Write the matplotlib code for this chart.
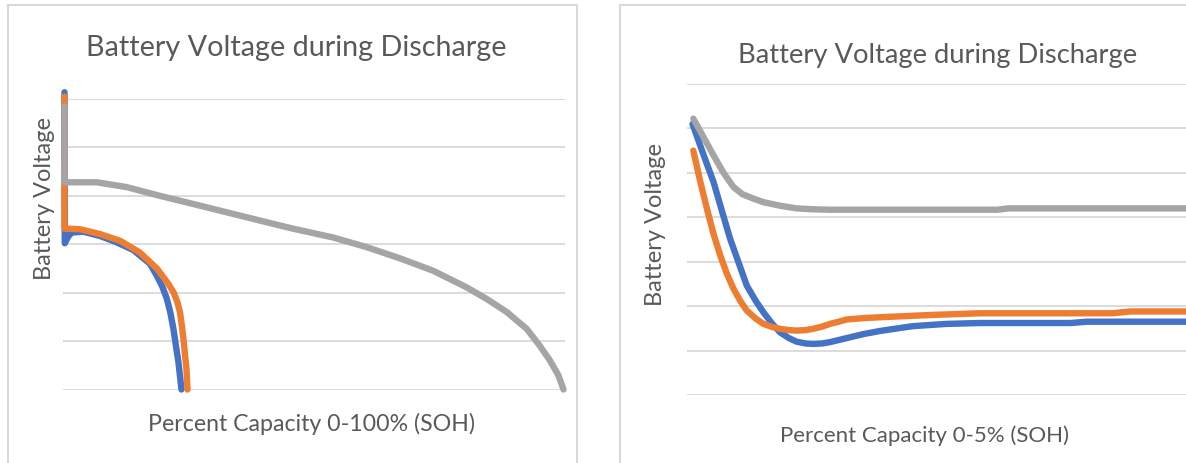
import matplotlib
matplotlib.use("Agg")
import matplotlib.pyplot as plt
from matplotlib.patches import Rectangle

# colours (Excel default palette)
BLUE = "#4472C4"
ORANGE = "#ED7D31"
GRAY = "#A5A5A5"
GRID = "#D9D9D9"
TXT = "#595959"

title = "Battery Voltage during Discharge"
ylabel = "Battery Voltage"
xlabel_left = "Percent Capacity 0-100% (SOH)"
xlabel_right = "Percent Capacity 0-5% (SOH)"

# ---- left chart: full discharge 0-100 % (y in gridline units)
blue_full_x = [0.3, 0.35, 1.0, 1.7, 4.0, 7.4, 10.7, 14.0, 17.3, 18.7, 19.8, 20.7, 21.4, 22.0, 22.5, 23.0, 23.3, 23.6]
blue_full_y = [6.14, 3.02, 3.15, 3.24, 3.26, 3.17, 3.04, 2.88, 2.6, 2.35, 2.12, 1.87, 1.58, 1.25, 0.9, 0.56, 0.28, 0.0]
orange_full_x = [0.3, 0.3, 1.4, 3.4, 7.4, 11.4, 15.3, 18.7, 20.0, 21.0, 22.0, 22.8, 23.3, 23.7, 24.0, 24.3, 24.6, 24.8]
orange_full_y = [6.05, 3.32, 3.32, 3.31, 3.21, 3.07, 2.83, 2.5, 2.32, 2.18, 2.01, 1.8, 1.6, 1.3, 1.04, 0.72, 0.42, 0.0]
gray_full_x = [0.3, 0.3, 6.7, 12.7, 19.3, 26.0, 32.6, 39.2, 45.9, 53.8, 60.5, 67.1, 73.8, 80.4, 84.4,
               88.4, 92.4, 95.0, 97.0, 98.7, 99.7]
gray_full_y = [5.85, 4.28, 4.28, 4.18, 4.0, 3.83, 3.66, 3.49, 3.32, 3.14, 2.94, 2.71, 2.45, 2.11, 1.87,
               1.60, 1.25, 0.90, 0.60, 0.29, 0.0]

# ---- right chart: first 0-5 %
blue_zoom_x = [0.05, 0.15, 0.24, 0.32, 0.39, 0.47, 0.54, 0.62, 0.69, 0.77, 0.84, 0.92, 0.99, 1.07, 1.14,
               1.22, 1.29, 1.44, 1.59, 1.74, 1.9, 2.04, 2.34, 2.64, 3.46, 3.61, 5.0]
blue_zoom_y = [6.10, 5.4, 4.79, 4.1, 3.51, 2.95, 2.46, 2.12, 1.86, 1.6, 1.41, 1.28, 1.20, 1.16, 1.15,
               1.16, 1.19, 1.28, 1.37, 1.44, 1.5, 1.55, 1.60, 1.62, 1.62, 1.65, 1.65]
orange_zoom_x = [0.057, 0.12, 0.18, 0.24, 0.30, 0.36, 0.42, 0.48, 0.54, 0.62, 0.69, 0.77, 0.84, 0.92, 0.99,
                 1.07, 1.14, 1.22, 1.29, 1.37, 1.44, 1.59, 1.74, 2.19, 2.64, 3.84, 4.0, 5.0]
orange_zoom_y = [5.50, 4.8, 4.19, 3.62, 3.14, 2.73, 2.39, 2.12, 1.90, 1.72, 1.60, 1.53, 1.49, 1.46, 1.45,
                 1.46, 1.49, 1.54, 1.60, 1.65, 1.70, 1.73, 1.75, 1.80, 1.84, 1.84, 1.88, 1.88]
gray_zoom_x = [0.057, 0.15, 0.24, 0.33, 0.42, 0.5, 0.6, 0.69, 0.84, 0.99, 1.14, 1.29, 1.74, 2.80, 2.90, 5.0]
gray_zoom_y = [6.22, 5.8, 5.39, 5.0, 4.68, 4.52, 4.42, 4.34, 4.26, 4.20, 4.18, 4.17, 4.17, 4.17, 4.20, 4.20]

W, H = 1186, 464
fig = plt.figure(figsize=(W / 100, H / 100), dpi=100)
plt.rcParams["font.family"] = ["Lato", "DejaVu Sans"]


def px(x0, y0, x1, y1):
    return [x0 / W, 1 - y1 / H, (x1 - x0) / W, (y1 - y0) / H]


# chart borders
for bx0, bx1 in [(8, 577), (620, 1300)]:
    fig.add_artist(Rectangle((bx0 / W, -0.1), (bx1 - bx0) / W, 1.1 - 6 / H,
                             transform=fig.transFigure, fill=False,
                             edgecolor=GRID, lw=1.5))


def style(ax, top):
    ax.set_ylim(0, top)
    ax.set_yticks(range(top + 1))
    ax.grid(axis="y", color=GRID, lw=1.3)
    ax.set_axisbelow(True)
    ax.set_xticks([])
    ax.tick_params(left=False, labelleft=False)
    for s in ax.spines.values():
        s.set_visible(False)
    ax.patch.set_alpha(0)


kw = dict(lw=4.6, clip_on=False, solid_capstyle="round", solid_joinstyle="round")
ax1 = fig.add_axes(px(63, 100, 565, 390.5))
ax1.set_xlim(0, 100)
style(ax1, 6)
ax1.plot(blue_full_x, blue_full_y, color=BLUE, **kw)
ax1.plot(orange_full_x, orange_full_y, color=ORANGE, **kw)
ax1.plot(gray_full_x, gray_full_y, color=GRAY, **kw)

ax2 = fig.add_axes(px(687, 85, 1241, 396))
ax2.set_xlim(0, 5)
style(ax2, 7)
ax2.plot(blue_zoom_x, blue_zoom_y, color=BLUE, **kw)
ax2.plot(orange_zoom_x, orange_zoom_y, color=ORANGE, **kw)
ax2.plot(gray_zoom_x, gray_zoom_y, color=GRAY, **kw)

# texts
fig.text(296 / W, 1 - 48 / H, title, ha="center", va="center", fontsize=20.7, color=TXT)
fig.text(938 / W, 1 - 55 / H, title, ha="center", va="center", fontsize=19.7, color=TXT)
fig.text(45 / W, 1 - 199 / H, ylabel, ha="center", va="center", rotation=90, fontsize=17, color=TXT)
fig.text(656 / W, 1 - 224 / H, ylabel, ha="center", va="center", rotation=90, fontsize=17, color=TXT)
fig.text(312 / W, 1 - 424 / H, xlabel_left, ha="center", va="center", fontsize=16.7, color=TXT)
fig.text(925 / W, 1 - 436 / H, xlabel_right, ha="center", va="center", fontsize=16, color=TXT)

fig.savefig("out.png", dpi=100)
